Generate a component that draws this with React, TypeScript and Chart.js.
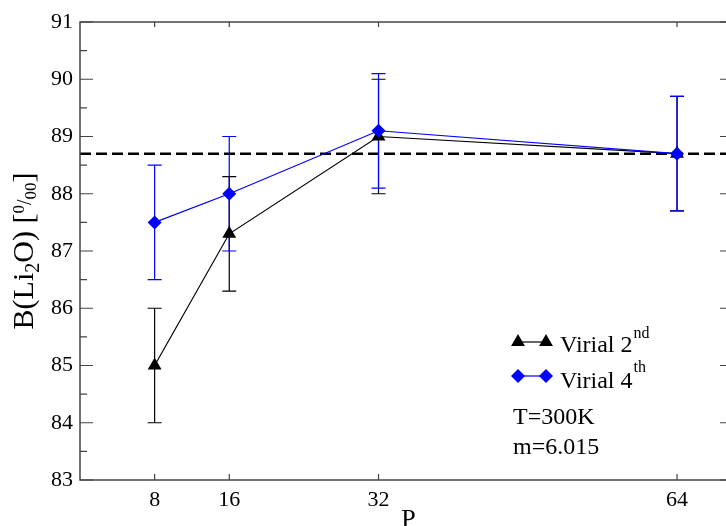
import React, { useEffect, useRef } from "react";
import { Chart, registerables } from "chart.js";

Chart.register(...registerables);

const P_VALUES = [8, 16, 32, 64];
const VIRIAL2 = [85.0, 87.3, 89.0, 88.7];
const VIRIAL2_ERR = [1, 1, 1, 1];
const VIRIAL4 = [87.5, 88.0, 89.1, 88.7];
const VIRIAL4_ERR = [1, 1, 1, 1];
const REFERENCE_LINE = 88.7;
const X_TICKS = [8, 16, 32, 64];
const Y_MIN = 83;
const Y_MAX = 91;
const X_MIN = 0;
const X_MAX = 70;

const SERIF = "'Liberation Serif', 'DejaVu Serif', serif";
const BLUE = "#0000ff";

const overlay = {
  id: "overlay",
  beforeDatasetsDraw(chart: any) {
    const { ctx, chartArea, scales } = chart;
    const xs = scales.x;
    const ys = scales.y;
    ctx.save();
    ctx.beginPath();
    ctx.rect(chartArea.left, chartArea.top, chartArea.right - chartArea.left, chartArea.bottom - chartArea.top);
    ctx.clip();
    ctx.strokeStyle = "#000";
    ctx.lineWidth = 2.5;
    ctx.setLineDash([11, 5]);
    const yr = ys.getPixelForValue(REFERENCE_LINE);
    ctx.beginPath();
    ctx.moveTo(chartArea.left, yr);
    ctx.lineTo(chartArea.right, yr);
    ctx.stroke();
    ctx.setLineDash([]);
    const drawErr = (vals: number[], errs: number[], color: string) => {
      ctx.strokeStyle = color;
      ctx.lineWidth = 1.2;
      vals.forEach((v, i) => {
        const x = xs.getPixelForValue(P_VALUES[i]);
        const y1 = ys.getPixelForValue(v + errs[i]);
        const y2 = ys.getPixelForValue(v - errs[i]);
        ctx.beginPath();
        ctx.moveTo(x, y1);
        ctx.lineTo(x, y2);
        ctx.moveTo(x - 7, y1);
        ctx.lineTo(x + 7, y1);
        ctx.moveTo(x - 7, y2);
        ctx.lineTo(x + 7, y2);
        ctx.stroke();
      });
    };
    drawErr(VIRIAL2, VIRIAL2_ERR, "#000");
    drawErr(VIRIAL4, VIRIAL4_ERR, BLUE);
    ctx.restore();
  },
  afterDraw(chart: any) {
    const { ctx, chartArea, scales } = chart;
    const xs = scales.x;
    const ys = scales.y;
    const { left, right, top, bottom } = chartArea;
    ctx.save();
    ctx.strokeStyle = "#444";
    ctx.lineWidth = 1.5;
    ctx.strokeRect(left, top, right - left, bottom - top);
    ctx.lineWidth = 1.2;
    ctx.beginPath();
    for (let v = Y_MIN; v <= Y_MAX + 1e-9; v += 0.5) {
      const y = ys.getPixelForValue(v);
      const major = Math.abs(v - Math.round(v)) < 1e-6;
      const len = major ? 13 : 7;
      ctx.moveTo(left, y);
      ctx.lineTo(left + len, y);
      ctx.moveTo(right, y);
      ctx.lineTo(right - len, y);
    }
    X_TICKS.forEach((v) => {
      const x = xs.getPixelForValue(v);
      ctx.moveTo(x, bottom);
      ctx.lineTo(x, bottom - 6);
      ctx.moveTo(x, top);
      ctx.lineTo(x, top + 5);
    });
    ctx.stroke();

    // y-axis title: B(Li2O) [0/00]
    ctx.fillStyle = "#000";
    ctx.textBaseline = "alphabetic";
    ctx.textAlign = "left";
    const big = `30px ${SERIF}`;
    const small = `20px ${SERIF}`;
    const tiny = `17px ${SERIF}`;
    const parts: [string, string, number][] = [
      ["B(Li", big, 0],
      ["2", small, 6],
      ["O) [", big, 0],
      ["0", tiny, -9],
      ["/", small, -2],
      ["00", tiny, 3],
      ["]", big, 0],
    ];
    let total = 0;
    parts.forEach(([t, f]) => {
      ctx.font = f;
      total += ctx.measureText(t).width;
    });
    ctx.save();
    ctx.translate(33, (top + bottom) / 2);
    ctx.rotate(-Math.PI / 2);
    let cx = -total / 2;
    parts.forEach(([t, f, dy]) => {
      ctx.font = f;
      ctx.fillText(t, cx, dy);
      cx += ctx.measureText(t).width;
    });
    ctx.restore();

    ctx.font = `26px ${SERIF}`;
    ctx.textAlign = "center";
    ctx.fillText("P", (left + right) / 2 + 2, 527);

    ctx.textAlign = "left";
    const drawTri = (x: number, y: number, r: number) => {
      ctx.beginPath();
      ctx.moveTo(x, y - r);
      ctx.lineTo(x + r * Math.sin((2 * Math.PI) / 3), y - r * Math.cos((2 * Math.PI) / 3));
      ctx.lineTo(x + r * Math.sin((4 * Math.PI) / 3), y - r * Math.cos((4 * Math.PI) / 3));
      ctx.closePath();
      ctx.fill();
    };
    const drawDia = (x: number, y: number, r: number) => {
      ctx.beginPath();
      ctx.moveTo(x - r, y);
      ctx.lineTo(x, y - r);
      ctx.lineTo(x + r, y);
      ctx.lineTo(x, y + r);
      ctx.closePath();
      ctx.fill();
    };
    const r1 = 342;
    ctx.strokeStyle = "#000";
    ctx.lineWidth = 1.2;
    ctx.beginPath();
    ctx.moveTo(518, r1);
    ctx.lineTo(546, r1);
    ctx.stroke();
    ctx.fillStyle = "#000";
    drawTri(518, r1, 8);
    drawTri(546, r1, 8);
    ctx.font = `24px ${SERIF}`;
    ctx.fillText("Virial 2", 560, 352);
    let w = ctx.measureText("Virial 2").width;
    ctx.font = `16px ${SERIF}`;
    ctx.fillText("nd", 560 + w + 1, 338);
    const r2 = 376;
    ctx.strokeStyle = BLUE;
    ctx.fillStyle = BLUE;
    ctx.beginPath();
    ctx.moveTo(518, r2);
    ctx.lineTo(546, r2);
    ctx.stroke();
    drawDia(518, r2, 7);
    drawDia(546, r2, 7);
    ctx.fillStyle = "#000";
    ctx.font = `24px ${SERIF}`;
    ctx.fillText("Virial 4", 560, 388);
    w = ctx.measureText("Virial 4").width;
    ctx.font = `16px ${SERIF}`;
    ctx.fillText("th", 560 + w + 1, 372);
    ctx.font = `24px ${SERIF}`;
    ctx.fillText("T=300K", 513, 424);
    ctx.fillText("m=6.015", 513, 454);
    ctx.restore();
  },
};

export default function App() {
  const ref = useRef<HTMLCanvasElement>(null);
  useEffect(() => {
    document.body.style.margin = "0";
    document.body.style.overflow = "hidden";
    const chart = new Chart(ref.current!, {
      type: "line",
      data: {
        datasets: [
          {
            label: "Virial 4th",
            data: P_VALUES.map((p, i) => ({ x: p, y: VIRIAL4[i] })),
            borderColor: BLUE,
            backgroundColor: BLUE,
            borderWidth: 1.2,
            pointStyle: "rectRot",
            pointRadius: 7,
            pointBorderWidth: 0,
            order: 0,
          },
          {
            label: "Virial 2nd",
            data: P_VALUES.map((p, i) => ({ x: p, y: VIRIAL2[i] })),
            borderColor: "#000",
            backgroundColor: "#000",
            borderWidth: 1.2,
            pointStyle: "triangle",
            pointRadius: 8,
            pointBorderWidth: 0,
            order: 1,
          },
        ],
      },
      options: {
        responsive: false,
        animation: false,
        layout: { padding: { top: 22, right: 12, left: 0, bottom: 0 } },
        plugins: { legend: { display: false }, tooltip: { enabled: false } },
        scales: {
          x: {
            type: "linear",
            min: X_MIN,
            max: X_MAX,
            grid: { display: false, drawTicks: false },
            border: { display: false },
            afterBuildTicks: (s: any) => {
              s.ticks = X_TICKS.map((v) => ({ value: v }));
            },
            afterFit: (s: any) => {
              s.height = 46;
            },
            ticks: {
              padding: 7,
              color: "#000",
              font: { family: SERIF, size: 22 },
              maxRotation: 0,
              autoSkip: false,
            },
          },
          y: {
            min: Y_MIN,
            max: Y_MAX,
            grid: { display: false, drawTicks: false },
            border: { display: false },
            afterFit: (s: any) => {
              s.width = 80;
            },
            ticks: {
              stepSize: 1,
              padding: 7,
              color: "#000",
              font: { family: SERIF, size: 22 },
            },
          },
        },
      },
      plugins: [overlay],
    });
    return () => chart.destroy();
  }, []);
  return (
    <div style={{ position: "fixed", left: 0, top: 0, width: 726, height: 526, overflow: "hidden" }}>
      <canvas ref={ref} width={745} height={526} style={{ width: 745, height: 526, display: "block" }} />
    </div>
  );
}
